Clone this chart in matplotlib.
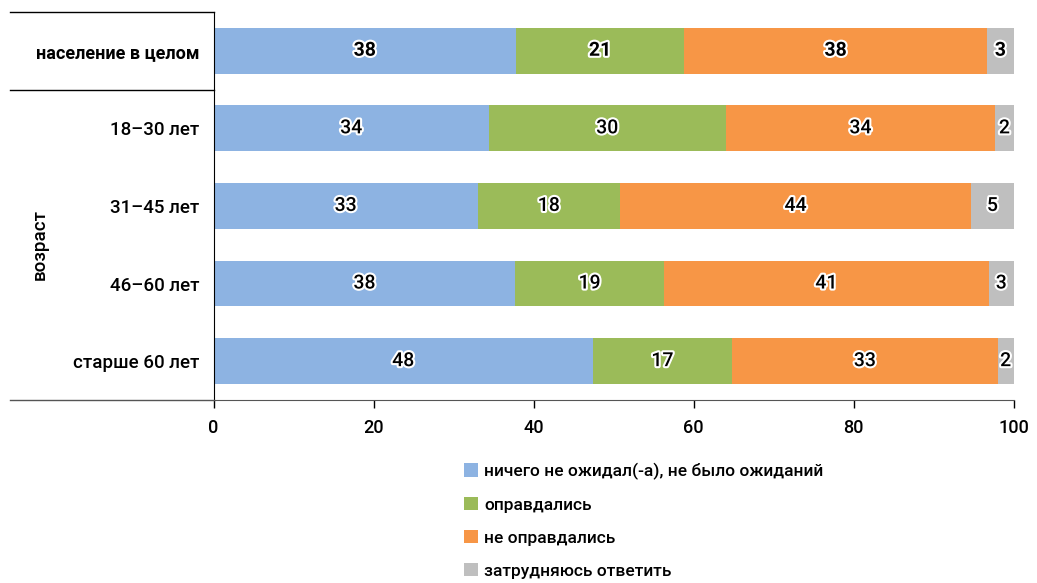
import matplotlib.pyplot as plt
import matplotlib.patheffects as pe
import matplotlib.transforms as mtransforms
from matplotlib.lines import Line2D
from matplotlib.patches import Patch

plt.rcParams['font.family'] = ['Roboto', 'DejaVu Sans']

# rows, top to bottom
groups = ['население в целом', '18–30 лет', '31–45 лет', '46–60 лет', 'старше 60 лет']

# bar widths (shares, %)
nothing_expected = [37.8, 34.4, 33.0, 37.7, 47.4]
justified = [21.0, 29.6, 17.8, 18.6, 17.4]
not_justified = [37.9, 33.7, 43.9, 40.6, 33.2]
hard_to_say = [3.3, 2.3, 5.3, 3.1, 2.0]

# numbers printed on the bars
lab_nothing = [38, 34, 33, 38, 48]
lab_justified = [21, 30, 18, 19, 17]
lab_not = [38, 34, 44, 41, 33]
lab_hard = [3, 2, 5, 3, 2]

series = [
    ('ничего не ожидал(-а), не было ожиданий', nothing_expected, lab_nothing, '#8DB3E2'),
    ('оправдались', justified, lab_justified, '#9BBB59'),
    ('не оправдались', not_justified, lab_not, '#F79646'),
    ('затрудняюсь ответить', hard_to_say, lab_hard, '#BFBFBF'),
]

fig = plt.figure(figsize=(10.37, 5.83), dpi=100)
ax = fig.add_axes([0.206, 0.314, 0.7715, 0.6655])

y = list(range(len(groups)))
left = [0.0] * len(groups)
for name, vals, labs, color in series:
    ax.barh(y, vals, left=left, height=0.59, color=color, label=name)
    for i in y:
        txt = ax.text(left[i] + vals[i] / 2, i, str(labs[i]), ha='center', va='center',
                      fontsize=14, fontweight='bold' if i == 0 else 'medium', color='black')
        txt.set_path_effects([pe.withStroke(linewidth=3, foreground='white')])
    left = [l + v for l, v in zip(left, vals)]

ax.set_xlim(0, 100)
ax.set_ylim(4.5, -0.5)
ax.set_yticks(y)
ax.set_yticklabels(groups, fontsize=13.5, fontweight='medium')
ax.get_yticklabels()[0].set_fontweight('bold')
ax.get_yticklabels()[0].set_fontsize(13)
ax.tick_params(axis='y', length=0, pad=10)
ax.set_xticks([0, 20, 40, 60, 80, 100])
ax.tick_params(axis='x', direction='out', length=6, width=1, labelsize=13, pad=8)
for t in ax.get_xticklabels():
    t.set_fontweight('medium')

for s in ['top', 'right']:
    ax.spines[s].set_visible(False)
ax.spines['left'].set_color('black')
ax.spines['bottom'].set_color('#555555')

# separator lines in the label area
tr = mtransforms.blended_transform_factory(fig.transFigure, ax.transData)
x0 = 10 / 1037
x1 = 0.206
for yy, c in [(-0.5, 'black'), (0.5, 'black'), (4.5, '#555555')]:
    fig.add_artist(Line2D([x0, x1], [yy, yy], transform=tr, color=c, lw=1))

fig.text(40 / 1037, 1 - 244 / 583, 'возраст', rotation=90, ha='center', va='center',
         fontsize=13.5, fontweight='medium')

handles = [Patch(facecolor=c, edgecolor='none') for _, _, _, c in series]
leg = fig.legend(handles, [s[0] for s in series], loc='upper left',
                 bbox_to_anchor=(448 / 1037, 1 - 447 / 583), frameon=False, fontsize=12.5,
                 handlelength=0.8, handleheight=0.8, handletextpad=0.4, labelspacing=1.0)
for t in leg.get_texts():
    t.set_fontweight('medium')

fig.savefig('out.png', dpi=100)
